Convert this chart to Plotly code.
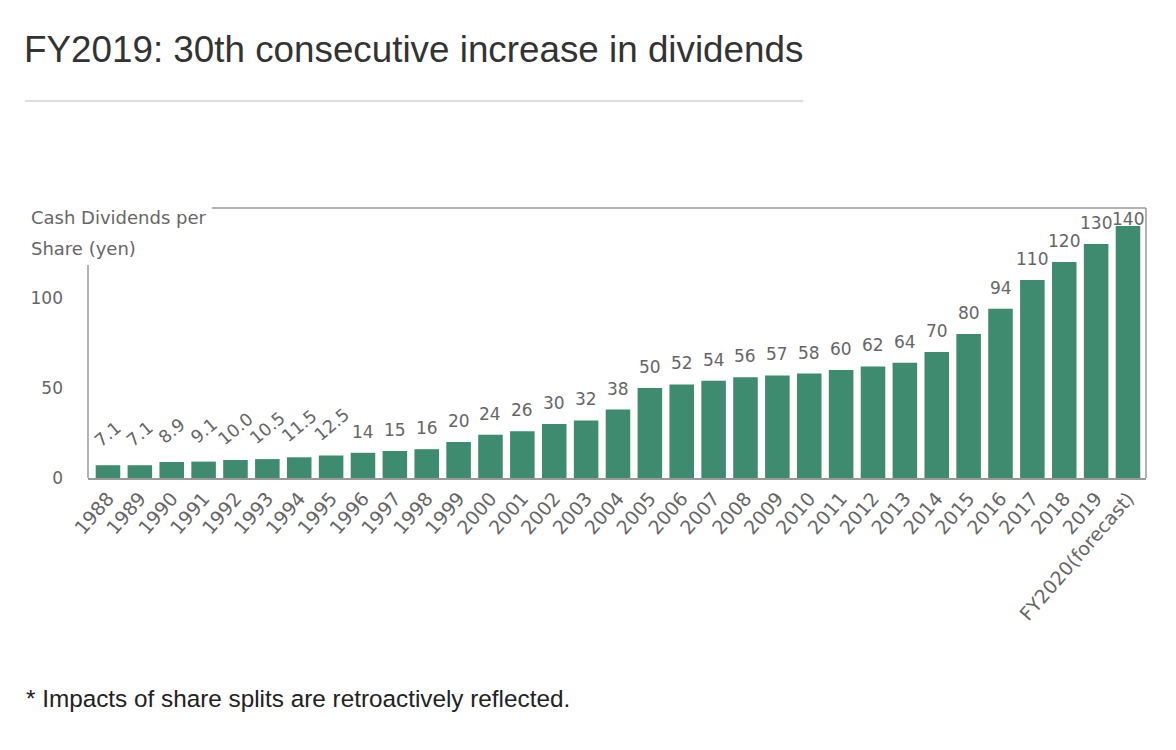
import plotly.graph_objects as go

categories = ["1988", "1989", "1990", "1991", "1992", "1993", "1994", "1995", "1996", "1997",
              "1998", "1999", "2000", "2001", "2002", "2003", "2004", "2005", "2006", "2007",
              "2008", "2009", "2010", "2011", "2012", "2013", "2014", "2015", "2016", "2017",
              "2018", "2019", "FY2020(forecast)"]
dividends = [7.1, 7.1, 8.9, 9.1, 10.0, 10.5, 11.5, 12.5, 14, 15,
             16, 20, 24, 26, 30, 32, 38, 50, 52, 54,
             56, 57, 58, 60, 62, 64, 70, 80, 94, 110,
             120, 130, 140]
value_labels = ["7.1", "7.1", "8.9", "9.1", "10.0", "10.5", "11.5", "12.5", "14", "15",
                "16", "20", "24", "26", "30", "32", "38", "50", "52", "54",
                "56", "57", "58", "60", "62", "64", "70", "80", "94", "110",
                "120", "130", "140"]
y_ticks = [0, 50, 100]
y_max = 150

BAR = "#3e8b6f"
GREY = "#666666"
FONT = "DejaVu Sans"

fig = go.Figure(go.Bar(x=categories, y=dividends, marker_color=BAR, marker_line_width=0))

# page has an 8px body margin; screen-pixel targets are converted to figure pixels
OFF = 8
W, H = 1168, 742
L, R, T, B = 80, 30, 200, 272
pw, ph = W - L - R, H - T - B
def px_x(sx):
    return (sx - OFF - L) / pw
def px_y(sy):
    return (H - B - (sy - OFF)) / ph

annotations = []
for i, (v, lab) in enumerate(zip(dividends, value_labels)):
    rotated = "." in lab
    bar_top_px = v / y_max * ph
    if bar_top_px + 30 > ph:
        annotations.append(dict(x=i, y=y_max, text=lab, showarrow=False, yanchor="top",
                                xanchor="center", yshift=1,
                                font=dict(family=FONT, size=17, color=GREY)))
    else:
        annotations.append(dict(x=i, y=v, text=lab, showarrow=False,
                                yanchor="middle", xanchor="center",
                                textangle=-40 if rotated else 0,
                                yshift=31 if rotated else 21,
                                font=dict(family=FONT, size=17.5 if rotated else 17, color=GREY)))

annotations += [
    dict(xref="paper", yref="paper", x=px_x(29), y=px_y(217), text="Cash Dividends per",
         showarrow=False, xanchor="left", yanchor="middle",
         font=dict(family=FONT, size=18, color=GREY)),
    dict(xref="paper", yref="paper", x=px_x(29), y=px_y(248), text="Share (yen)",
         showarrow=False, xanchor="left", yanchor="middle",
         font=dict(family=FONT, size=18, color=GREY)),
    dict(xref="paper", yref="paper", x=px_x(24), y=px_y(698),
         text="* Impacts of share splits are retroactively reflected.",
         showarrow=False, xanchor="left", yanchor="middle",
         font=dict(family="Liberation Sans", size=24.3, color="#222222")),
]

shapes = [
    dict(type="line", xref="paper", yref="paper", x0=px_x(25), x1=px_x(803),
         y0=px_y(101), y1=px_y(101), line=dict(color="#dddddd", width=2)),
    dict(type="line", xref="paper", yref="paper", x0=px_x(212), x1=1, y0=1, y1=1,
         line=dict(color="#999999", width=1.5)),
    dict(type="line", xref="paper", yref="paper", x0=1, x1=1, y0=0, y1=1,
         line=dict(color="#999999", width=1.5)),
    dict(type="line", xref="paper", yref="paper", x0=0, x1=0, y0=0, y1=px_y(265),
         line=dict(color="#999999", width=1.5)),
]

fig.update_layout(
    width=W, height=H,
    margin=dict(l=L, r=R, t=T, b=B),
    plot_bgcolor="white", paper_bgcolor="white",
    bargap=0.23,
    showlegend=False,
    title=dict(text="FY2019: 30th consecutive increase in dividends",
               x=(24 - OFF) / W, xanchor="left", xref="container",
               y=1 - (49 - OFF) / H, yanchor="middle", yref="container",
               font=dict(family="Liberation Sans", size=36.8, color="#333333")),
    annotations=annotations,
    shapes=shapes,
)
fig.update_xaxes(type="category", tickangle=-49, showgrid=False, showline=True,
                 linecolor="#999999", linewidth=1.5, ticks="",
                 tickfont=dict(family=FONT, size=19, color=GREY))
fig.update_yaxes(range=[0, y_max], tickvals=y_ticks, showgrid=False, zeroline=False,
                 showline=False, ticks="", ticklabelstandoff=24,
                 tickfont=dict(family=FONT, size=17, color=GREY))

fig.write_html("out.html")
